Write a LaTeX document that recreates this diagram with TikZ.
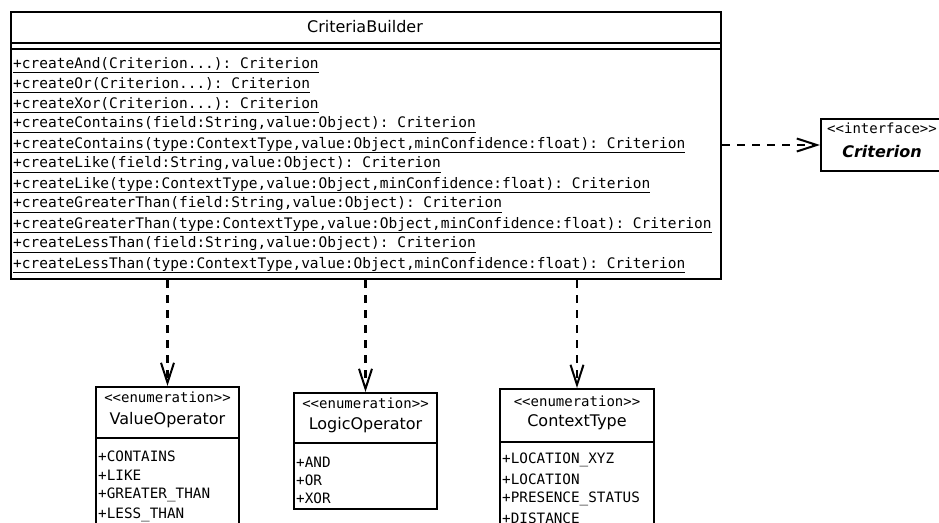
\documentclass[tikz,border=0pt]{standalone}
\usepackage{fontspec}
\setmainfont{DejaVu Sans}
\setmonofont{DejaVu Sans Mono}
\usetikzlibrary{arrows.meta, positioning}

\newcommand\threedots{...}

\tikzset{
  classbox/.style={draw, line width=2pt, inner sep=0pt, anchor=north west},
  divider/.style={line width=2pt},
  depline/.style={line width=2.5pt, dash pattern=on 8pt off 7pt,
    -{Straight Barb[length=20pt,width=13pt,line width=2pt]}},
  classname/.style={font=\fontsize{16}{18}\selectfont, inner sep=0pt},
  stereo/.style={font=\fontsize{14}{16}\selectfont\ttfamily, inner sep=0pt},
  member/.style={font=\fontsize{14.5}{17}\selectfont\ttfamily, inner sep=0pt, anchor=west},
  literal/.style={font=\fontsize{14.3}{17}\selectfont\ttfamily, inner sep=0pt, anchor=west},
}

\begin{document}
\begin{tikzpicture}[x=1pt, y=-1pt]
  \path[fill=white, use as bounding box] (0,0) rectangle (939,522);

  % builder class
  \node[classbox, minimum width=710pt, minimum height=267pt] (builder) at (10,11) {};
  \node[classname] (builderTitle) at (365,27) {CriteriaBuilder};
  \draw[divider] (builder.west |- 0,43) -- (builder.east |- 0,43);
  \draw[divider] (builder.west |- 0,49) -- (builder.east |- 0,49);
  \foreach \m [count=\i] in {
      {+createAnd(Criterion\threedots): Criterion},
      {+createOr(Criterion\threedots): Criterion},
      {+createXor(Criterion\threedots): Criterion},
      {+createContains(field:String,value:Object): Criterion},
      {+createContains(type:ContextType,value:Object,minConfidence:float): Criterion},
      {+createLike(field:String,value:Object): Criterion},
      {+createLike(type:ContextType,value:Object,minConfidence:float): Criterion},
      {+createGreaterThan(field:String,value:Object): Criterion},
      {+createGreaterThan(type:ContextType,value:Object,minConfidence:float): Criterion},
      {+createLessThan(field:String,value:Object): Criterion},
      {+createLessThan(type:ContextType,value:Object,minConfidence:float): Criterion}}
    \node[member] (m\i) at (13,{65+20*(\i-1)}) {\underline{\m}};

  % interface
  \node[classbox, minimum width=125pt, minimum height=52pt] (crit) at (820,118) {};
  \node[stereo] (critStereo) at (882,128) {<<interface>>};
  \node[classname, font=\fontsize{16}{18}\selectfont\bfseries\itshape] (critName) at (882,152) {Criterion};

  % enumerations
  \node[classbox, minimum width=143pt, minimum height=200pt] (vo) at (95,386) {};
  \node[stereo] (voStereo) at (vo.north |- 0,397) {<<enumeration>>};
  \node[classname] (voName) at (vo.north |- 0,420) {ValueOperator};
  \draw[divider] (vo.west |- 0,438) -- (vo.east |- 0,438);
  \foreach \m [count=\i] in {+CONTAINS, +LIKE, +GREATER\_THAN, +LESS\_THAN}
    \node[literal] (vo\i) at (98,{456+19.5*(\i-1)}) {\m};

  \node[classbox, minimum width=143pt, minimum height=116pt] (lo) at (293,392) {};
  \node[stereo] (loStereo) at (lo.north |- 0,403) {<<enumeration>>};
  \node[classname] (loName) at (lo.north |- 0,425) {LogicOperator};
  \draw[divider] (lo.west |- 0,443) -- (lo.east |- 0,443);
  \foreach \m [count=\i] in {+AND, +OR, +XOR}
    \node[literal] (lo\i) at (296,{462+18*(\i-1)}) {\m};

  \node[classbox, minimum width=154pt, minimum height=200pt] (ct) at (499,388) {};
  \node[stereo] (ctStereo) at (ct.north |- 0,401) {<<enumeration>>};
  \node[classname] (ctName) at (ct.north |- 0,422) {ContextType};
  \draw[divider] (ct.west |- 0,442) -- (ct.east |- 0,442);
  \foreach \m [count=\i] in {+LOCATION\_XYZ, +LOCATION, +PRESENCE\_STATUS, +DISTANCE}
    \node[literal] (ct\i) at (502,{460+19.3*(\i-1)}) {\m};

  % dependencies
  \draw[depline] (builder.east |- crit.west) -- (crit.west);
  \draw[depline] (builder.south -| vo.north) -- (vo.north);
  \draw[depline] (builder.south -| lo.north) -- (lo.north);
  \draw[depline] (builder.south -| ct.north) -- (ct.north);
\end{tikzpicture}
\end{document}
